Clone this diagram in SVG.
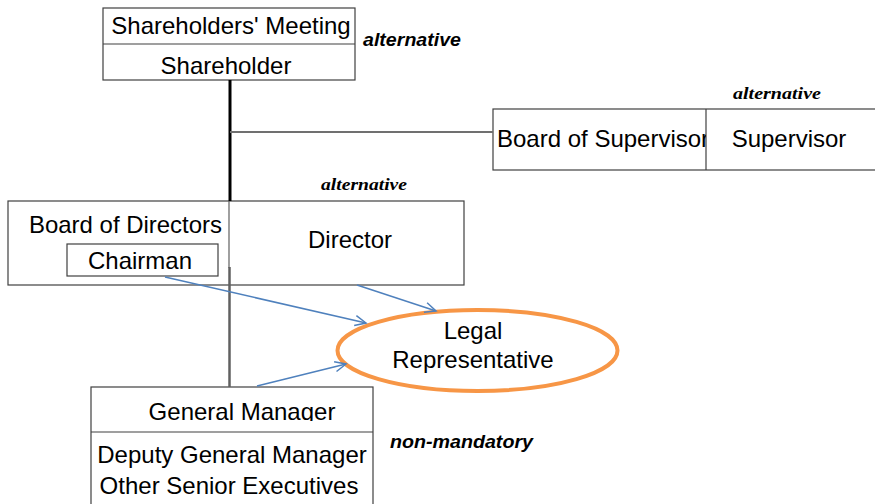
<svg xmlns="http://www.w3.org/2000/svg" width="875" height="504" viewBox="0 0 875 504">
<style>
.box{fill:#fff;stroke:#404040;stroke-width:1.2}
.t{font-family:"Liberation Sans",Arial,sans-serif;font-size:24px;fill:#000}
.m{text-anchor:middle}
.note{font-family:"Liberation Sans",Arial,sans-serif;font-size:18px;font-weight:bold;font-style:italic;fill:#000}
.snote{font-family:"Liberation Serif","Times New Roman",serif;font-size:17px;font-weight:bold;font-style:italic;fill:#000}
.arr{fill:none;stroke:#4F81BD;stroke-width:1.5;marker-end:url(#ah)}
</style>
<defs>
<marker id="ah" markerWidth="14" markerHeight="12" refX="12" refY="6" orient="auto" markerUnits="userSpaceOnUse">
<path d="M1,1 L12,6 L1,11" fill="none" stroke="#4F81BD" stroke-width="1.5"/>
</marker>
<clipPath id="gmclip"><rect x="91" y="387" width="282" height="34"/></clipPath>
</defs>
<rect width="875" height="504" fill="#fff"/>

<g id="shareholders">
<rect x="103" y="8" width="252" height="72" class="box"/>
<line x1="103" y1="44" x2="355" y2="44" stroke="#404040" stroke-width="1.2"/>
<text x="231" y="34" class="t m">Shareholders' Meeting</text>
<text x="226" y="74" class="t m">Shareholder</text>
</g>
<text x="363" y="46" class="note" textLength="98" lengthAdjust="spacingAndGlyphs">alternative</text>

<g id="supervisors">
<rect x="493" y="109" width="390" height="61" class="box"/>
<line x1="706" y1="109" x2="706" y2="170" stroke="#404040" stroke-width="1.2"/>
<svg x="493" y="109" width="213" height="61" overflow="hidden">
<text x="4" y="38" class="t">Board of Supervisor</text>
</svg>
<text x="789" y="147" class="t m">Supervisor</text>
</g>
<text x="733" y="99" class="snote" textLength="88" lengthAdjust="spacingAndGlyphs">alternative</text>

<g id="directors">
<rect x="8" y="201" width="456" height="84" class="box"/>
<line x1="229" y1="201" x2="229" y2="268" stroke="#606060" stroke-width="1.2"/>
<text x="29" y="233" class="t" textLength="193" lengthAdjust="spacingAndGlyphs">Board of Directors</text>
<text x="350" y="248" class="t m">Director</text>
</g>
<g id="chairman">
<rect x="67" y="244" width="151" height="32" class="box"/>
<text x="140" y="269" class="t m">Chairman</text>
</g>
<text x="321" y="190" class="snote" textLength="86" lengthAdjust="spacingAndGlyphs">alternative</text>

<g id="legal">
<ellipse cx="477.5" cy="350.5" rx="140" ry="40.5" fill="#fff" stroke="#F79646" stroke-width="4"/>
<text x="473" y="339" class="t m">Legal</text>
<text x="473" y="368" class="t m">Representative</text>
</g>

<g id="management">
<rect x="91" y="387" width="282" height="125" class="box"/>
<line x1="91" y1="432" x2="373" y2="432" stroke="#404040" stroke-width="1.2"/>
<text x="242" y="420" class="t m" clip-path="url(#gmclip)">General Manager</text>
<text x="232" y="463" class="t m">Deputy General Manager</text>
<text x="229" y="494" class="t m">Other Senior Executives</text>
</g>
<text x="390" y="448" class="note" textLength="143" lengthAdjust="spacingAndGlyphs">non-mandatory</text>

<g id="connectors">
<line x1="230" y1="80" x2="230" y2="201" stroke="#000" stroke-width="3"/>
<line x1="230" y1="132" x2="493" y2="132" stroke="#707070" stroke-width="2"/>
<line x1="229.5" y1="267" x2="229.5" y2="387" stroke="#606060" stroke-width="2.5"/>
<line x1="165" y1="277" x2="366" y2="323" class="arr"/>
<line x1="357" y1="285" x2="436" y2="311" class="arr"/>
<line x1="257" y1="386" x2="346" y2="364" class="arr"/>
</g>
</svg>
